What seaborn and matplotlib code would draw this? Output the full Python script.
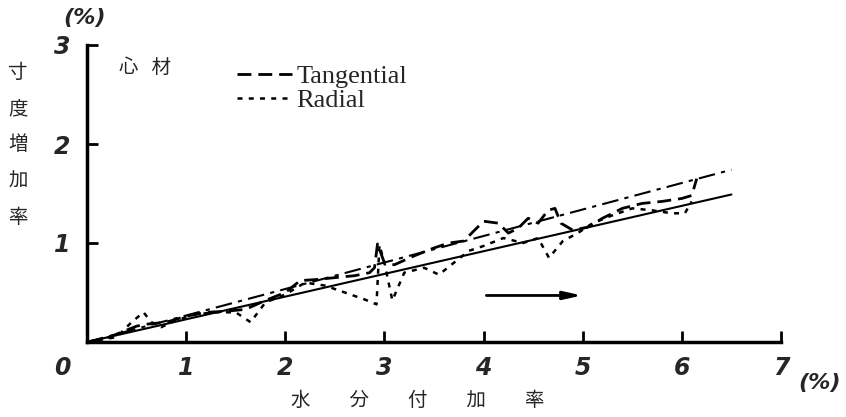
import numpy as np
import pandas as pd
import matplotlib
matplotlib.use("Agg")
import matplotlib.pyplot as plt
import seaborn as sns

# ---- data ----
tan_x = [0, 0.2, 0.4, 0.5, 0.6, 0.8, 1.0, 1.2, 1.4, 1.6, 1.8, 2.0, 2.15, 2.3, 2.5, 2.7, 2.85, 2.9, 2.93, 3.0, 3.1, 3.3, 3.5, 3.65, 3.8, 3.9, 4.0, 4.15, 4.25, 4.35, 4.45, 4.55, 4.65, 4.72, 4.78, 4.9, 5.05, 5.2, 5.4, 5.6, 5.8, 6.0, 6.1, 6.15]
tan_y = [0, 0.04, 0.12, 0.16, 0.18, 0.2, 0.26, 0.3, 0.31, 0.33, 0.42, 0.5, 0.62, 0.63, 0.65, 0.67, 0.7, 0.75, 0.99, 0.8, 0.78, 0.87, 0.95, 1.0, 1.02, 1.12, 1.22, 1.2, 1.1, 1.15, 1.25, 1.2, 1.33, 1.35, 1.2, 1.13, 1.16, 1.25, 1.35, 1.4, 1.42, 1.45, 1.48, 1.65]
rad_x = [0, 0.3, 0.45, 0.57, 0.65, 0.75, 0.9, 1.1, 1.3, 1.5, 1.65, 1.8, 2.0, 2.2, 2.4, 2.6, 2.8, 2.92, 2.95, 3.0, 3.08, 3.2, 3.4, 3.55, 3.7, 3.85, 4.0, 4.2, 4.4, 4.55, 4.66, 4.8, 4.95, 5.1, 5.3, 5.5, 5.7, 5.9, 6.03, 6.1]
rad_y = [0, 0.05, 0.2, 0.3, 0.2, 0.15, 0.22, 0.28, 0.3, 0.3, 0.2, 0.4, 0.48, 0.6, 0.57, 0.5, 0.43, 0.38, 0.98, 0.8, 0.42, 0.7, 0.75, 0.68, 0.8, 0.92, 0.97, 1.05, 1.0, 1.05, 0.85, 1.02, 1.1, 1.2, 1.28, 1.35, 1.33, 1.3, 1.3, 1.42]
fit_x = [0, 6.5]
tan_fit_y = [0, 1.74]
rad_fit_y = [0, 1.49]
arrow_x = [4.0, 5.02]
arrow_y = [0.47, 0.47]
x_ticks = [1, 2, 3, 4, 5, 6, 7]
y_ticks = [1, 2, 3]

sns.set_theme(style="white")
plt.rcParams['font.family'] = ['Noto Sans CJK JP', 'DejaVu Sans']

fig = plt.figure(figsize=(8.46, 4.17), dpi=100)
ax = fig.add_axes([87/846, 75/417, 694/846, 297/417])

tan_df = pd.DataFrame({"x": tan_x, "y": tan_y})
rad_df = pd.DataFrame({"x": rad_x, "y": rad_y})
fit_df = pd.DataFrame({"x": fit_x, "t": tan_fit_y, "r": rad_fit_y})

sns.lineplot(data=tan_df, x="x", y="y", sort=False, ax=ax, color="black",
             lw=2.0, linestyle=(0, (5, 2.5)), label="Tangential")
sns.lineplot(data=rad_df, x="x", y="y", sort=False, ax=ax, color="black",
             lw=1.8, linestyle=(0, (2, 2.5)), label="Radial")
sns.lineplot(data=fit_df, x="x", y="t", sort=False, ax=ax, color="black",
             lw=1.5, linestyle=(0, (8, 3, 2, 3)), legend=False)
sns.lineplot(data=fit_df, x="x", y="r", sort=False, ax=ax, color="black",
             lw=1.5, linestyle="-", legend=False)

ax.annotate("", xy=(arrow_x[1], arrow_y[1]), xytext=(arrow_x[0], arrow_y[0]),
            arrowprops=dict(arrowstyle="-|>,head_length=0.9,head_width=0.2",
                            color="black", lw=2))

ax.set_xlim(0, 7)
ax.set_ylim(0, 3)
for s in ["top", "right"]:
    ax.spines[s].set_visible(False)
for s in ["left", "bottom"]:
    ax.spines[s].set_linewidth(2.5)
    ax.spines[s].set_color("black")

ax.set_xticks(x_ticks)
ax.set_yticks(y_ticks)
tfont = dict(fontsize=17, fontweight="bold", fontstyle="italic", family="DejaVu Sans")
ax.set_xticklabels([str(t) for t in x_ticks], **tfont)
ax.set_yticklabels([str(t) for t in y_ticks], **tfont)
ax.tick_params(axis="both", direction="in", length=8, width=2, color="black",
               bottom=True, left=True)
ax.tick_params(axis="x", pad=10)
ax.tick_params(axis="y", pad=12)
ax.set_xlabel("")
ax.set_ylabel("")

fig.text(62/846, 1 - 368/417, "0", ha="center", va="center", **tfont)
fig.text(85/846, 1 - 18/417, "(%)", ha="center", va="center", fontsize=16,
         fontweight="bold", fontstyle="italic", family="DejaVu Sans")
fig.text(820/846, 1 - 383/417, "(%)", ha="center", va="center", fontsize=16,
         fontweight="bold", fontstyle="italic", family="DejaVu Sans")

fig.text(18/846, 1 - 145/417, "寸\n度\n増\n加\n率", ha="center", va="center",
         fontsize=14, linespacing=1.95)
fig.text(418/846, 1 - 400/417, "水　　分　　付　　加　　率", ha="center", va="center",
         fontsize=14)
ax.text(0.32, 2.77, "心   材", ha="left", va="center", fontsize=14)

leg = ax.legend(loc="upper left", bbox_to_anchor=((237 - 87)/694, 1 - (65 - 45)/297),
                frameon=False, borderaxespad=0, borderpad=0,
                handlelength=2.1, handletextpad=0.15, labelspacing=0.0,
                prop={"family": "Liberation Serif", "size": 19})

fig.savefig("out.png", dpi=100)
